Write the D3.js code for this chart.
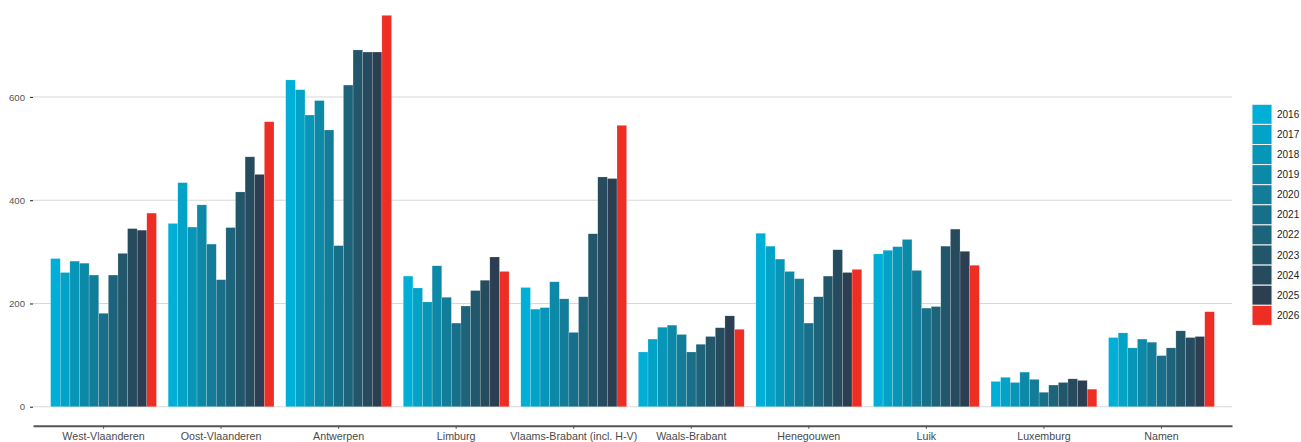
<!DOCTYPE html>
<html>
<head>
<meta charset="utf-8">
<script src="https://cdn.jsdelivr.net/npm/d3@7"></script>
<style>
  html, body { margin: 0; padding: 0; background: #fff; }
  svg { display: block; }
  text { font-family: "Liberation Sans", Arial, sans-serif; }
</style>
</head>
<body>
<div id="chart"></div>
<script>
const categories = ["West-Vlaanderen", "Oost-Vlaanderen", "Antwerpen", "Limburg",
  "Vlaams-Brabant (incl. H-V)", "Waals-Brabant", "Henegouwen", "Luik", "Luxemburg", "Namen"];
const years = ["2016", "2017", "2018", "2019", "2020", "2021", "2022", "2023", "2024", "2025", "2026"];

const v2016 = [287, 355, 633, 253, 231, 106, 336, 296, 49, 134];
const v2017 = [260, 434, 614, 230, 189, 131, 311, 303, 57, 143];
const v2018 = [282, 348, 565, 203, 192, 154, 286, 310, 47, 114];
const v2019 = [278, 391, 593, 273, 242, 158, 262, 324, 67, 131];
const v2020 = [255, 315, 536, 212, 209, 140, 248, 264, 53, 125];
const v2021 = [181, 246, 312, 162, 144, 106, 162, 191, 28, 99];
const v2022 = [255, 347, 623, 195, 213, 121, 213, 194, 42, 114];
const v2023 = [297, 416, 691, 225, 335, 136, 253, 311, 47, 147];
const v2024 = [345, 484, 687, 245, 445, 153, 304, 344, 54, 134];
const v2025 = [342, 450, 687, 290, 442, 176, 260, 301, 51, 136];
const v2026 = [375, 552, 758, 262, 545, 150, 266, 274, 34, 184];
const seriesValues = [v2016, v2017, v2018, v2019, v2020, v2021, v2022, v2023, v2024, v2025, v2026];

const colors = ["#00AFD7", "#03A3C8", "#0896B8", "#0D89A8", "#137C98", "#186F89",
  "#1D637A", "#22576B", "#274B5E", "#2C3E51", "#EE2D24"];
const yTicks = [0, 200, 400, 600];

const W = 1301, H = 442;
const svg = d3.select("#chart").append("svg").attr("width", W).attr("height", H);

const panelLeft = 33, panelRight = 1232;
const x0 = d3.scaleBand().domain(categories).range([panelLeft, panelRight])
  .paddingInner(0).paddingOuter(0.1);
const groupW = x0.bandwidth() * 0.9;
const x1 = d3.scaleBand().domain(years).range([0, groupW]).padding(0);

const dataMax = d3.max(seriesValues.flat());
const pad = dataMax * 0.05;
const y = d3.scaleLinear().domain([-pad, dataMax + pad]).range([426.3, -4.2]);
const color = d3.scaleOrdinal().domain(years).range(colors);

// gridlines
svg.append("g").selectAll("line").data(yTicks).join("line")
  .attr("x1", panelLeft).attr("x2", panelRight)
  .attr("y1", d => y(d)).attr("y2", d => y(d))
  .attr("stroke", "#d8d8dc").attr("stroke-width", 1.1);

// y axis (ticks and labels only)
const yAxis = svg.append("g").attr("transform", `translate(${panelLeft},0)`)
  .call(d3.axisLeft(y).tickValues(yTicks).tickSize(3).tickPadding(5));
yAxis.select(".domain").remove();
yAxis.selectAll(".tick line").attr("stroke", "#333").attr("stroke-width", 1.1);
yAxis.selectAll("text").attr("fill", "#555").style("font-size", "9.6px")
  .style("font-family", "'Liberation Sans', Arial, sans-serif");

// bars
const groups = svg.append("g").selectAll("g").data(categories).join("g")
  .attr("transform", c => `translate(${x0(c) + (x0.bandwidth() - groupW) / 2},0)`);
groups.selectAll("rect")
  .data((c, ci) => years.map((yr, yi) => ({ yr, v: seriesValues[yi][ci] })))
  .join("rect")
  .attr("x", d => x1(d.yr))
  .attr("width", x1.bandwidth())
  .attr("y", d => y(d.v))
  .attr("height", d => y(0) - y(d.v))
  .attr("fill", d => color(d.yr))
  .attr("stroke", "rgba(255,255,255,0.35)")
  .attr("stroke-width", 0.5);

// x axis
const xAxis = svg.append("g").attr("transform", `translate(0,${y(-pad) - 0.6})`)
  .call(d3.axisBottom(x0).tickSize(3).tickPadding(4).tickSizeOuter(0));
xAxis.select(".domain").attr("stroke", "#555").attr("stroke-width", 2);
xAxis.selectAll(".tick line").attr("stroke", "#555").attr("stroke-width", 1.1);
xAxis.selectAll("text").attr("fill", "#4a4a4a").style("font-size", "10.7px")
  .style("font-family", "'Liberation Sans', Arial, sans-serif");

// legend
const legend = svg.append("g").attr("transform", "translate(1252,104.3)");
const keyH = 20.1;
const items = legend.selectAll("g").data(years).join("g")
  .attr("transform", (d, i) => `translate(0,${i * keyH})`);
items.append("rect").attr("width", 20).attr("height", keyH)
  .attr("fill", d => color(d)).attr("stroke", "#f2f2f2").attr("stroke-width", 1);
items.append("text").attr("x", 25).attr("y", keyH / 2).attr("dy", "0.35em")
  .attr("fill", "#222").style("font-size", "10px").text(d => d);
</script>
</body>
</html>
